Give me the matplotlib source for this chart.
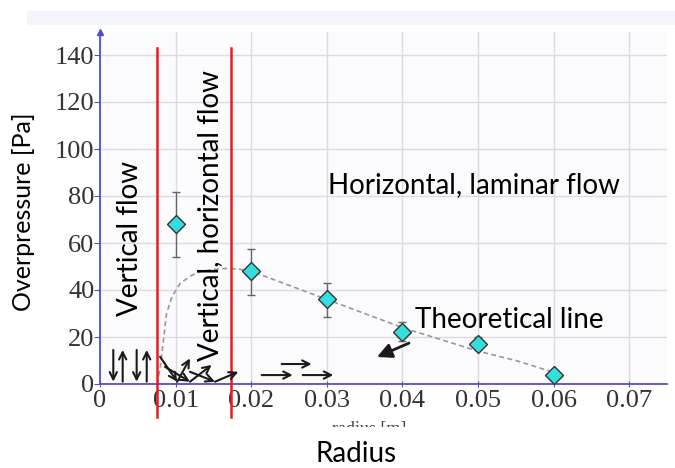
import matplotlib
matplotlib.use("Agg")
import matplotlib.pyplot as plt
from matplotlib.patches import Rectangle

# ---- data ----
radius = [0.01, 0.02, 0.03, 0.04, 0.05, 0.06]
overpressure = [68, 48, 36, 22, 17, 4]
err_low = [14, 10, 7.5, 3.5, 2, 0]
err_high = [13.5, 9.5, 7, 4.5, 3, 0]

theory_x = [0.0076, 0.0080, 0.0084, 0.0088, 0.0095, 0.0106, 0.0120, 0.0132,
            0.0150, 0.0168, 0.0185, 0.0200, 0.0250, 0.0300, 0.0350, 0.0400,
            0.0450, 0.0500, 0.0550, 0.0600]
theory_y = [0, 8, 18.7, 30, 37, 42.8, 46, 47.8, 48.8, 49.2, 48.8, 48, 42, 36,
            30, 24, 19, 14, 10, 5]

region_bounds = [0.00754, 0.01733]

x_ticks = [0, 0.01, 0.02, 0.03, 0.04, 0.05, 0.06, 0.07]
x_tick_labels = ["0", "0.01", "0.02", "0.03", "0.04", "0.05", "0.06", "0.07"]
y_ticks = [0, 20, 40, 60, 80, 100, 120, 140]
y_tick_labels = ["0", "20", "40", "60", "80", "100", "120", "140"]

# flow sketch arrows: (x0, y0, x1, y1)
vertical_arrows = [(0.00176, 14.5, 0.00176, 1.0), (0.00300, 1.0, 0.00300, 14.5),
                   (0.00485, 14.5, 0.00485, 1.0), (0.00618, 1.0, 0.00618, 14.5)]
zigzag_arrows = [(0.00794, 11.6, 0.01022, 0.98), (0.01022, 0.98, 0.01190, 10.9),
                 (0.00860, 7.3, 0.01190, 0.98), (0.01190, 0.98, 0.01477, 8.1),
                 (0.01190, 5.2, 0.01521, 0.98), (0.01521, 0.98, 0.01830, 5.2)]
horizontal_arrows = [(0.02403, 8.5, 0.02800, 8.5), (0.02139, 3.8, 0.02549, 3.8),
                     (0.02681, 3.8, 0.03086, 3.8)]
pointer_arrow = (0.04087, 17.4, 0.03664, 11.5)

W, H = 675, 468
fig = plt.figure(figsize=(W / 100, H / 100), dpi=100)
fig.patch.set_facecolor("white")

# light screenshot background band
fig.patches.append(Rectangle((27 / W, 1 - 25 / H), (W - 27) / W, 14 / H,
                             transform=fig.transFigure, facecolor="#f4f5fa",
                             edgecolor="none", zorder=0))

ax = fig.add_axes([100 / W, (H - 384) / H, 567 / W, 352.5 / H])
ax.set_facecolor("#fbfbfd")
ax.set_xlim(0, 0.075)
ax.set_ylim(0, 150)

blue = "#5050cc"
for s in ["top", "right"]:
    ax.spines[s].set_visible(False)
for s in ["left", "bottom"]:
    ax.spines[s].set_color(blue)
    ax.spines[s].set_linewidth(1.3)

ax.plot([0], [150], marker="^", color=blue, markersize=5, clip_on=False,
        zorder=5)

ax.set_xticks(x_ticks)
ax.set_xticklabels(x_tick_labels)
ax.set_yticks(y_ticks)
ax.set_yticklabels(y_tick_labels)
ax.tick_params(axis="both", colors=blue, labelcolor="#333333")
ax.tick_params(axis="x", direction="inout", length=5, pad=2)
ax.tick_params(axis="y", direction="out", length=4, pad=0)
for lab in ax.get_xticklabels() + ax.get_yticklabels():
    lab.set_fontfamily("Liberation Serif")
    lab.set_fontsize(19)

ax.grid(True, color="#dcdce0", linewidth=1.0)
ax.set_axisbelow(True)

# region boundaries
for xb in region_bounds:
    ax.plot([xb, xb], [-14, 143], color="#e81e1e", linewidth=1.8,
            clip_on=False, zorder=4)

# theoretical line
ax.plot(theory_x, theory_y, color="#999999", linewidth=1.2,
        linestyle=(0, (3, 2)), zorder=3)

# measurements
ax.errorbar(radius, overpressure, yerr=[err_low, err_high], fmt="D",
            markersize=9, markerfacecolor="#33dede", markeredgecolor="#333333",
            markeredgewidth=1.0, ecolor="#666666", elinewidth=1.0, capsize=3,
            zorder=6)


def arrow(a, lw=1.5, ms=13, style="->"):
    ax.annotate("", xy=(a[2], a[3]), xytext=(a[0], a[1]),
                arrowprops=dict(arrowstyle=style, lw=lw, color="#1a1a1a",
                                shrinkA=0, shrinkB=0, mutation_scale=ms),
                zorder=5)


for a in vertical_arrows + zigzag_arrows + horizontal_arrows:
    arrow(a)
arrow(pointer_arrow, lw=2.0, ms=22, style="-|>")

tf = "Lato"
ax.text(0.00397, 62.1, "Vertical flow", rotation=90, ha="center", va="center",
        fontsize=20, family=tf, color="black")
ax.text(0.01455, 71.5, "Vertical, horizontal flow", rotation=90, ha="center",
        va="center", fontsize=20, family=tf, color="black")
ax.text(0.04947, 84.7, "Horizontal, laminar flow", ha="center", va="center",
        fontsize=20, family=tf, color="black")
ax.text(0.0541, 27.2, "Theoretical line", ha="center", va="center",
        fontsize=20, family=tf, color="black")

fig.text(24 / W, 1 - 212 / H, "Overpressure [Pa]", rotation=90, ha="center",
         va="center", fontsize=18, family=tf, color="black")

# partially hidden original axis title
fig.text(369 / W, 1 - 421 / H, "radius [m]", ha="center", va="top",
         fontsize=13, family="Liberation Serif", color="#444444", zorder=1)
fig.patches.append(Rectangle((300 / W, 1 - 468 / H), 140 / W, 41 / H,
                             transform=fig.transFigure, facecolor="white",
                             edgecolor="none", zorder=2))

fig.text(356 / W, 1 - 454 / H, "Radius", ha="center", va="center",
         fontsize=20, family=tf, color="black", zorder=3)

fig.savefig("out.png", dpi=100)
